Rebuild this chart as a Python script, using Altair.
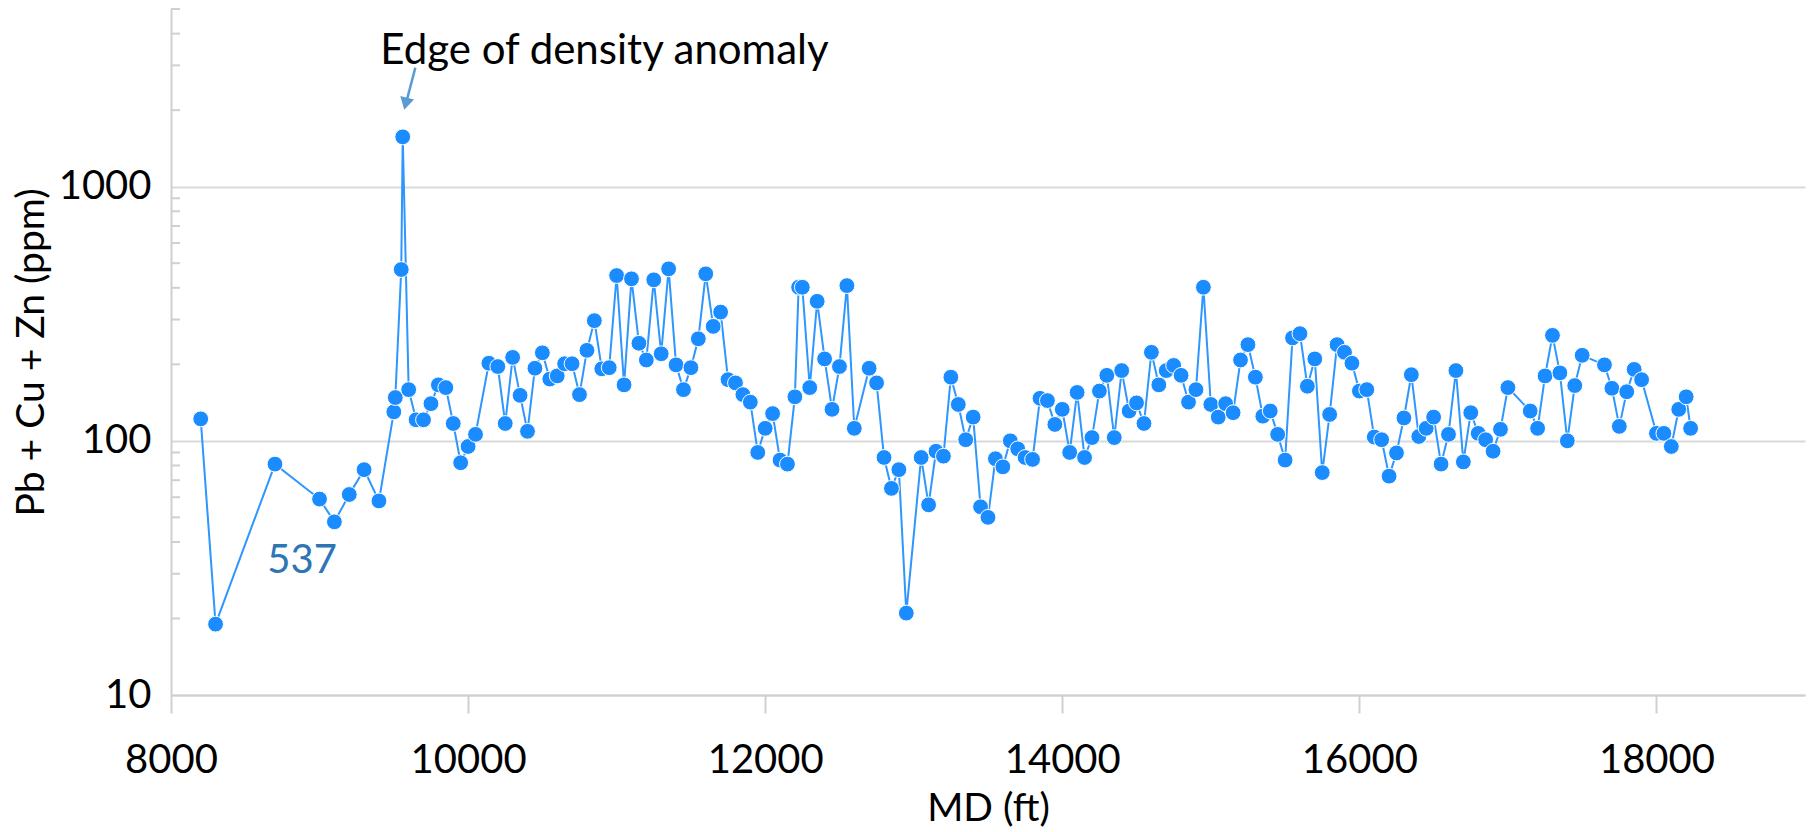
import altair as alt
import pandas as pd

md_ft = [
    8200, 8300, 8700, 9000, 9100, 9200, 9300, 9400, 9500, 9510,
    9550, 9560, 9600, 9650, 9700, 9750, 9800, 9850, 9900, 9950,
    10000, 10050, 10140, 10200, 10250, 10300, 10350, 10400, 10450, 10500,
    10550, 10600, 10650, 10700, 10750, 10800, 10850, 10900, 10950, 11000,
    11050, 11100, 11150, 11200, 11250, 11300, 11350, 11400, 11450, 11500,
    11550, 11600, 11650, 11700, 11750, 11800, 11850, 11900, 11950, 12000,
    12050, 12100, 12150, 12200, 12225, 12250, 12300, 12350, 12400, 12450,
    12500, 12550, 12600, 12700, 12750, 12800, 12850, 12900, 12950, 13050,
    13100, 13150, 13200, 13250, 13300, 13350, 13400, 13450, 13500, 13550,
    13600, 13650, 13700, 13750, 13800, 13850, 13900, 13950, 14000, 14050,
    14100, 14150, 14200, 14250, 14300, 14350, 14400, 14450, 14500, 14550,
    14600, 14650, 14700, 14750, 14800, 14850, 14900, 14950, 15000, 15050,
    15100, 15150, 15200, 15250, 15300, 15350, 15400, 15450, 15500, 15550,
    15600, 15650, 15700, 15750, 15800, 15850, 15900, 15950, 16000, 16050,
    16100, 16150, 16200, 16250, 16300, 16350, 16400, 16450, 16500, 16550,
    16600, 16650, 16700, 16750, 16800, 16850, 16900, 16950, 17000, 17150,
    17200, 17250, 17300, 17350, 17400, 17450, 17500, 17650, 17700, 17750,
    17800, 17850, 17900, 18000, 18050, 18100, 18150, 18200, 18230,
]
ppm = [
    122, 19, 81, 59, 48, 61.5, 77, 58, 130, 148,
    472, 1570, 159, 121, 121, 140, 166, 162, 117, 82,
    95, 106, 202, 196, 117, 213, 151, 109, 193, 222,
    175, 180, 201, 201, 152, 227, 297, 192, 194, 447,
    166, 434, 242, 208, 430, 220, 475, 199, 159, 194,
    252, 454, 282, 321, 174, 169, 152, 142, 90, 112,
    128, 84, 81, 149, 402, 402, 162, 354, 210, 133,
    196, 408, 112, 193, 169, 86, 65, 77, 21, 86,
    56, 91, 87, 178, 139, 101, 124, 55, 50, 85,
    79, 100, 93, 86, 84.5, 147, 144, 116, 133, 90,
    155, 86, 103, 157, 181, 103, 189, 131, 141, 117,
    223, 166, 189, 198, 181, 142, 159, 402, 139, 124,
    140, 129, 208, 239, 178, 125, 131, 106, 84, 254,
    264, 164, 210, 75, 127, 239, 223, 202, 157, 159,
    103.5, 101, 72.6, 89.6, 123, 182, 104, 112, 124, 81,
    106, 189, 82.6, 129, 107, 101, 91, 111, 162, 131,
    112, 180, 260, 185, 100, 165, 217, 199, 161, 114,
    156, 191, 174, 107, 107, 95, 133, 149, 112,
]

x_ticks = [8000, 10000, 12000, 14000, 16000, 18000]
y_major = [10, 100, 1000]
y_minor = [20, 30, 40, 50, 60, 70, 80, 90,
           200, 300, 400, 500, 600, 700, 800, 900,
           2000, 3000, 4000, 5000]

# annotations (data coordinates)
anno_text = ["Edge of density anomaly"]
anno_x = [9409]
anno_y = [3040]
arrow_x = [9645]
arrow_y = [2940]
arrow_x2 = [9584]
arrow_y2 = [2150]
head_x = [9580]
head_y = [2120]
label_text = ["537"]
label_x = [8648]
label_y = [30.1]

df = pd.DataFrame({"md": md_ft, "ppm": ppm})
minor_df = pd.DataFrame({"v": y_minor})
anno_df = pd.DataFrame({"t": anno_text, "x": anno_x, "y": anno_y})
arrow_df = pd.DataFrame({"x": arrow_x, "y": arrow_y, "x2": arrow_x2, "y2": arrow_y2})
head_df = pd.DataFrame({"x": head_x, "y": head_y})
lab_df = pd.DataFrame({"t": label_text, "x": label_x, "y": label_y})

FONT = "Lato"
xscale = alt.Scale(domain=[8000, 19000], nice=False, zero=False)
yscale = alt.Scale(type="log", domain=[10, 5000], nice=False)

x_axis = alt.Axis(
    values=x_ticks, grid=False, domainColor="#d0d0d0", domainWidth=2,
    tickColor="#d0d0d0", tickWidth=2, tickSize=18,
    labelFont=FONT, labelFontSize=40, labelColor="black", labelPadding=27,
    labelFlush=False, labelOverlap=False, format="d",
    title="MD (ft)", titleFont=FONT, titleFontSize=39, titleFontWeight="normal",
    titleColor="black", titleY=125, titleBaseline="alphabetic",
)
y_axis = alt.Axis(
    values=y_major, grid=True, gridColor="#d9d9d9", gridWidth=2,
    domainColor="#d0d0d0", domainWidth=2, ticks=False, tickSize=0,
    labelFont=FONT, labelFontSize=40, labelColor="black", labelPadding=20,
    labelOverlap=False, format="d",
    title="Pb + Cu + Zn (ppm)", titleFont=FONT, titleFontSize=39,
    titleFontWeight="normal", titleColor="black", titleX=-128, titleY=343,
    titleBaseline="alphabetic", titleAngle=270, titleAlign="center",
)


def X(field):
    return alt.X(field, scale=xscale, axis=x_axis)


def Y(field):
    return alt.Y(field, scale=yscale, axis=y_axis)


line = alt.Chart(df).mark_line(color="#2d96ff", strokeWidth=2).encode(
    x=X("md:Q"), y=Y("ppm:Q"), order="md:Q",
)

minor = alt.Chart(minor_df).mark_rule(color="#d0d0d0", strokeWidth=2).encode(
    y=Y("v:Q"), x=alt.value(0), x2=alt.value(9),
)

points = alt.Chart(df).mark_circle(
    size=250, color="#1a8cff", opacity=1, stroke="white", strokeWidth=1
).encode(x=X("md:Q"), y=Y("ppm:Q"))

arrow = alt.Chart(arrow_df).mark_rule(color="#5b9bd5", strokeWidth=2.5).encode(
    x=X("x:Q"), y=Y("y:Q"), x2="x2:Q", y2="y2:Q",
)
head = alt.Chart(head_df).mark_point(
    shape="triangle-down", filled=True, size=200, color="#5b9bd5", opacity=1, angle=14
).encode(x=X("x:Q"), y=Y("y:Q"))

anno = alt.Chart(anno_df).mark_text(
    font=FONT, fontSize=42, color="black", align="left", baseline="alphabetic"
).encode(x=X("x:Q"), y=Y("y:Q"), text="t:N")

lab = alt.Chart(lab_df).mark_text(
    font=FONT, fontSize=40, color="#2e75b6", align="left", baseline="alphabetic"
).encode(x=X("x:Q"), y=Y("y:Q"), text="t:N")

chart = alt.layer(line, minor, points, arrow, head, anno, lab).properties(
    width=1634, height=686,
    autosize=alt.AutoSizeParams(type="none"),
    padding={"left": 171, "top": 9, "right": 5, "bottom": 137},
    background="white",
).configure_view(stroke=None)

chart.save("out.html", embed_options={"renderer": "svg", "actions": False})
